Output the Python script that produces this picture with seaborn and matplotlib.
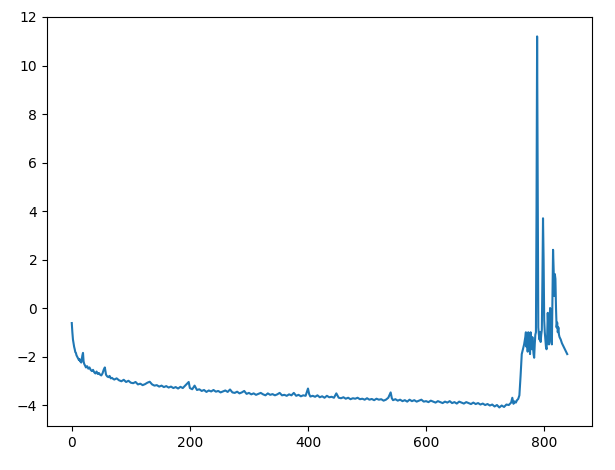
import matplotlib
matplotlib.use("Agg")
import matplotlib.pyplot as plt
import seaborn as sns

# step index (x) and value (y)
x_start = [0, 1, 2, 3, 4, 5, 6, 7, 8, 9, 10, 11, 12, 13, 14, 15, 16, 17, 18, 19, 20,
           21, 22, 24, 26, 28, 30, 32, 34, 36, 38, 40, 42, 44, 46, 48, 50, 52, 54, 56,
           58, 60, 62, 64, 66, 68, 70]
y_start = [-0.62, -1.0, -1.3, -1.45, -1.6, -1.7, -1.82, -1.85, -1.95, -2.0, -2.05, -2.1,
           -2.14, -2.1, -2.2, -2.15, -2.25, -2.1, -1.95, -1.85, -2.2, -2.3, -2.35, -2.45,
           -2.4, -2.5, -2.45, -2.55, -2.6, -2.55, -2.65, -2.7, -2.62, -2.72, -2.68, -2.75,
           -2.78, -2.7, -2.55, -2.45, -2.75, -2.82, -2.85, -2.8, -2.9, -2.88, -2.92]

x_flat = [72, 76, 80, 84, 88, 92, 96, 100, 104, 108, 112, 116, 120, 124, 128, 132, 136,
          140, 144, 148, 152, 156, 160, 164, 168, 172, 176, 180, 184, 188, 192, 196, 198,
          200, 204, 208, 212, 216, 220, 224, 228, 232, 236, 240, 244, 248, 252, 256, 260,
          264, 268, 272, 276, 280, 284, 288, 292, 296, 300, 304, 308, 312, 316, 320, 324,
          328, 332, 336, 340, 344, 348, 352, 356, 360, 364, 368, 372, 376, 380, 384, 388,
          392, 396, 400, 402, 404, 408, 412, 416, 420, 424, 428, 432, 436, 440, 444, 448,
          452, 456, 460, 464, 468, 472, 476, 480, 484, 488, 492, 496, 500, 504, 508, 512,
          516, 520, 524, 528, 532, 536, 540, 542, 544, 548, 552, 556, 560, 564, 568, 572,
          576, 580, 584, 588, 592, 596, 600, 604, 608, 612, 616, 620, 624, 628, 632, 636,
          640, 644, 648, 652, 656, 660, 664, 668, 672, 676, 680, 684, 688, 692, 696, 700,
          704, 708, 712, 716, 720, 724, 728, 732, 736, 740, 744, 746, 748, 750, 752, 754,
          756]
y_flat = [-2.95, -2.9, -2.98, -3.02, -2.96, -3.05, -3.0, -3.08, -3.1, -3.05, -3.15, -3.12,
          -3.18, -3.14, -3.08, -3.04, -3.15, -3.2, -3.18, -3.24, -3.2, -3.26, -3.22, -3.28,
          -3.24, -3.3, -3.26, -3.32, -3.25, -3.3, -3.2, -3.1, -3.05, -3.3, -3.35, -3.2,
          -3.38, -3.35, -3.42, -3.38, -3.46, -3.4, -3.44, -3.38, -3.45, -3.42, -3.48, -3.44,
          -3.4, -3.46, -3.36, -3.48, -3.5, -3.45, -3.52, -3.48, -3.42, -3.54, -3.5, -3.56,
          -3.52, -3.58, -3.54, -3.5, -3.56, -3.6, -3.52, -3.58, -3.55, -3.6, -3.56, -3.5,
          -3.6, -3.58, -3.62, -3.56, -3.6, -3.5, -3.62, -3.58, -3.64, -3.6, -3.62, -3.32,
          -3.55, -3.65, -3.62, -3.66, -3.6, -3.68, -3.64, -3.7, -3.62, -3.68, -3.66, -3.7,
          -3.52, -3.7, -3.72, -3.68, -3.74, -3.7, -3.76, -3.72, -3.74, -3.7, -3.76, -3.74,
          -3.78, -3.72, -3.78, -3.75, -3.8, -3.74, -3.78, -3.76, -3.82, -3.78, -3.7, -3.48,
          -3.72, -3.8, -3.76, -3.82, -3.78, -3.84, -3.8, -3.86, -3.78, -3.84, -3.8, -3.86,
          -3.82, -3.78, -3.86, -3.84, -3.88, -3.82, -3.86, -3.9, -3.84, -3.88, -3.92, -3.86,
          -3.9, -3.84, -3.92, -3.88, -3.94, -3.86, -3.9, -3.94, -3.88, -3.92, -3.96, -3.9,
          -3.96, -3.92, -3.98, -3.94, -4.0, -3.96, -4.02, -3.98, -4.06, -4.0, -4.1, -4.02,
          -4.08, -3.98, -4.0, -3.9, -3.7, -3.95, -3.85, -3.9, -3.8, -3.75]

x_spikes = [758, 760, 762, 764, 766, 768, 769, 770, 771, 772, 773, 774, 775, 776, 777,
            778, 779, 780, 781, 782, 783, 784, 785, 786, 787, 788, 789, 790, 791, 792,
            793, 794, 795, 796, 797, 798, 799, 800, 801, 802, 803, 804, 805, 806, 807,
            808, 809, 810, 811, 812, 813, 814, 815, 816, 817, 818, 819, 820, 821, 822,
            823, 824, 825, 826, 828, 830, 832, 834, 836, 838, 839]
y_spikes = [-3.6, -2.8, -1.9, -1.7, -1.5, -1.2, -1.0, -1.6, -1.1, -1.8, -1.0, -1.4, -1.1,
            -1.9, -1.0, -1.3, -1.7, -1.2, -1.6, -1.9, -2.05, -1.5, -1.1, -1.0, 4.0, 11.2,
            5.0, -0.8, -1.1, -1.3, -1.0, -1.4, -1.1, -0.9, 1.2, 3.7, 2.0, -0.5, -1.0, -1.3,
            -1.6, -1.7, -1.2, -0.2, -0.8, -1.5, -0.6, 0.0, -0.5, -1.4, -1.5, 0.5, 2.4, 1.6,
            0.5, 1.4, 1.2, 0.0, -0.8, -0.6, -1.0, -0.8, -1.1, -1.2, -1.3, -1.45, -1.55,
            -1.65, -1.75, -1.85, -1.9]

steps = x_start + x_flat + x_spikes
values = y_start + y_flat + y_spikes

fig, ax = plt.subplots(figsize=(6.15, 4.70), dpi=100)
fig.subplots_adjust(left=47 / 615, right=592 / 615, top=1 - 17 / 470, bottom=1 - 426 / 470)
sns.lineplot(x=steps, y=values, ax=ax, color="#1f77b4", linewidth=1.5)
ax.set_xticks([0, 200, 400, 600, 800])
ax.set_yticks([-4, -2, 0, 2, 4, 6, 8, 10, 12])
fig.savefig("out.png", dpi=100)
